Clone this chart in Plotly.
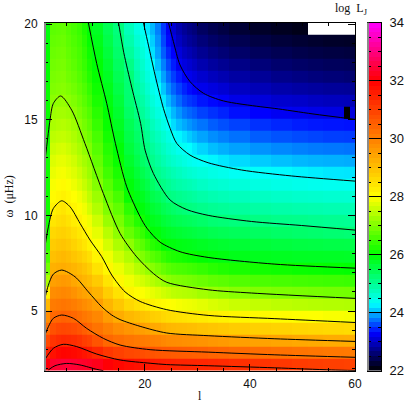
import numpy as np
import plotly.graph_objects as go

# heatmap cells: l columns are wide where the picture changes slowly
l_edges = [1, 2, 3, 4, 5, 6, 7, 8, 9, 10, 12, 14, 16, 18, 19, 20, 21, 22, 23, 24, 25, 26, 27, 28, 29, 30,
           32, 34, 36, 40, 44, 48, 51, 54, 58, 59, 60]
omega_range = [1.88, 20.07]
omega_edges = np.linspace(omega_range[0], omega_range[1], 30)

# log L_j, one row per omega band, bottom to top
log_lj = [
    [31.6,31.95,32.0,32.05,32.05,32.0,31.95,31.9,31.85,31.75,31.55,31.4,31.3,31.25,31.2,31.17,31.12,31.08,31.05,31.02,31.0,30.97,30.96,30.95,30.95,30.94,30.9,30.87,30.8,30.74,30.68,30.63,30.6,30.56,30.54,30.52],
    [31.0,31.25,31.4,31.45,31.42,31.38,31.3,31.2,31.1,30.92,30.68,30.55,30.45,30.4,30.35,30.3,30.27,30.23,30.2,30.18,30.15,30.13,30.12,30.1,30.08,30.06,30.0,29.97,29.92,29.87,29.82,29.78,29.75,29.72,29.7,29.68],
    [30.4,30.75,30.85,30.9,30.88,30.83,30.75,30.6,30.5,30.26,29.97,29.85,29.77,29.7,29.67,29.64,29.6,29.57,29.5,29.45,29.43,29.41,29.39,29.37,29.36,29.33,29.27,29.23,29.18,29.12,29.07,29.03,29.0,28.98,28.96,28.94],
    [29.9,30.3,30.42,30.45,30.42,30.35,30.25,30.1,29.97,29.8,29.6,29.42,29.3,29.2,29.18,29.1,29.04,29.0,28.9,28.83,28.8,28.78,28.76,28.74,28.72,28.67,28.62,28.58,28.52,28.47,28.42,28.38,28.35,28.32,28.3,28.28],
    [29.4,29.96,30.0,30.06,30.01,29.95,29.85,29.74,29.65,29.5,29.2,28.97,28.8,28.72,28.65,28.6,28.5,28.45,28.35,28.3,28.25,28.22,28.2,28.16,28.13,28.08,28.02,27.98,27.93,27.88,27.84,27.81,27.79,27.76,27.74,27.73],
    [28.8,29.68,29.72,29.76,29.72,29.65,29.55,29.43,29.33,29.18,28.85,28.6,28.35,28.22,28.14,28.06,27.98,27.92,27.86,27.82,27.78,27.74,27.7,27.68,27.65,27.6,27.53,27.48,27.42,27.37,27.33,27.3,27.28,27.26,27.25,27.24],
    [28.0,29.41,29.46,29.5,29.46,29.35,29.2,29.1,29.02,28.86,28.5,28.2,27.94,27.84,27.78,27.7,27.63,27.55,27.46,27.4,27.33,27.3,27.27,27.25,27.22,27.14,27.08,27.03,26.97,26.92,26.88,26.86,26.84,26.82,26.81,26.8],
    [27.2,29.15,29.2,29.25,29.2,29.05,28.95,28.85,28.75,28.53,28.17,27.9,27.7,27.56,27.48,27.38,27.28,27.18,27.07,26.98,26.92,26.89,26.86,26.83,26.8,26.75,26.68,26.64,26.58,26.53,26.5,26.47,26.45,26.43,26.41,26.4],
    [26.8,28.9,28.95,28.98,28.92,28.85,28.75,28.63,28.5,28.2,27.9,27.67,27.47,27.28,27.2,27.05,26.95,26.84,26.72,26.62,26.56,26.52,26.5,26.46,26.42,26.37,26.28,26.22,26.17,26.12,26.09,26.06,26.04,26.02,26.0,25.99],
    [26.5,28.7,28.77,28.8,28.74,28.62,28.52,28.4,28.25,27.94,27.7,27.45,27.25,27.0,26.9,26.75,26.62,26.52,26.37,26.26,26.2,26.16,26.12,26.08,26.05,25.98,25.93,25.88,25.8,25.77,25.74,25.72,25.71,25.7,25.69,25.68],
    [26.3,28.52,28.6,28.62,28.55,28.42,28.3,28.15,27.97,27.78,27.5,27.22,27.0,26.75,26.63,26.44,26.28,26.19,26.0,25.93,25.9,25.85,25.82,25.8,25.77,25.72,25.66,25.62,25.58,25.54,25.5,25.47,25.45,25.43,25.42,25.41],
    [26.2,28.35,28.43,28.45,28.38,28.25,28.13,27.98,27.85,27.62,27.3,27.0,26.72,26.5,26.37,26.15,25.97,25.92,25.78,25.7,25.65,25.6,25.55,25.52,25.48,25.43,25.36,25.32,25.28,25.23,25.18,25.15,25.12,25.09,25.07,25.05],
    [26.1,28.15,28.26,28.3,28.2,28.06,27.98,27.84,27.7,27.45,27.08,26.85,26.5,26.25,26.12,25.91,25.78,25.7,25.56,25.48,25.4,25.35,25.3,25.27,25.22,25.16,25.08,25.05,25.0,24.95,24.9,24.88,24.85,24.83,24.81,24.8],
    [26.1,28.0,28.1,28.15,28.03,27.93,27.83,27.7,27.5,27.25,26.9,26.68,26.3,26.0,25.92,25.75,25.6,25.5,25.35,25.25,25.16,25.09,25.04,24.98,24.95,24.88,24.82,24.78,24.73,24.68,24.64,24.61,24.59,24.57,24.56,24.55],
    [26.1,27.85,27.93,27.98,27.9,27.8,27.7,27.55,27.35,27.1,26.75,26.5,26.06,25.85,25.75,25.57,25.4,25.3,25.15,24.98,24.93,24.87,24.82,24.77,24.72,24.65,24.58,24.53,24.48,24.43,24.39,24.36,24.34,24.32,24.31,24.3],
    [26.1,27.75,27.83,27.86,27.78,27.68,27.55,27.4,27.22,26.93,26.6,26.3,25.93,25.7,25.55,25.4,25.2,25.03,24.93,24.82,24.72,24.65,24.6,24.55,24.5,24.42,24.34,24.3,24.25,24.18,24.14,24.11,24.09,24.07,24.06,24.05],
    [26.1,27.65,27.72,27.74,27.66,27.57,27.43,27.27,27.1,26.8,26.45,26.18,25.78,25.55,25.38,25.22,25.02,24.87,24.75,24.65,24.55,24.47,24.39,24.33,24.28,24.22,24.15,24.1,24.03,23.98,23.94,23.91,23.89,23.87,23.86,23.85],
    [26.1,27.55,27.62,27.63,27.56,27.46,27.3,27.16,27.03,26.7,26.33,26.06,25.65,25.4,25.2,25.05,24.88,24.72,24.58,24.45,24.35,24.27,24.18,24.1,24.05,24.0,23.92,23.87,23.82,23.77,23.73,23.7,23.68,23.67,23.66,23.65],
    [26.1,27.43,27.5,27.52,27.44,27.33,27.2,27.03,26.9,26.6,26.25,25.95,25.52,25.28,25.1,24.95,24.75,24.6,24.45,24.3,24.2,24.08,24.02,23.95,23.88,23.8,23.72,23.67,23.62,23.57,23.53,23.5,23.48,23.47,23.46,23.45],
    [26.1,27.32,27.36,27.38,27.32,27.22,27.09,26.92,26.78,26.5,26.14,25.82,25.42,25.18,25.0,24.83,24.62,24.47,24.32,24.17,24.0,23.92,23.85,23.77,23.7,23.63,23.55,23.5,23.45,23.38,23.34,23.31,23.29,23.27,23.26,23.25],
    [26.05,27.2,27.25,27.27,27.22,27.12,26.97,26.82,26.67,26.38,26.05,25.73,25.33,25.08,24.9,24.72,24.5,24.33,24.15,23.98,23.83,23.72,23.65,23.58,23.52,23.46,23.38,23.33,23.28,23.22,23.18,23.15,23.13,23.12,23.11,23.1],
    [26.05,27.1,27.14,27.15,27.1,27.0,26.86,26.72,26.57,26.28,25.97,25.63,25.2,24.95,24.78,24.58,24.37,24.2,24.03,23.85,23.7,23.58,23.47,23.41,23.36,23.28,23.22,23.17,23.1,23.05,23.0,22.98,22.95,22.93,22.0,22.9],
    [26.05,26.98,27.03,27.05,26.98,26.9,26.77,26.63,26.46,26.18,25.88,25.53,25.1,24.83,24.67,24.45,24.25,24.07,23.88,23.7,23.55,23.42,23.3,23.24,23.2,23.12,23.07,23.02,22.95,22.9,22.85,22.83,22.8,22.78,22.77,22.75],
    [26.05,26.9,26.93,26.95,26.88,26.8,26.68,26.55,26.35,26.1,25.8,25.43,25.08,24.73,24.55,24.33,24.13,23.97,23.75,23.55,23.4,23.28,23.17,23.09,23.03,22.97,22.92,22.87,22.8,22.75,22.7,22.67,22.65,22.63,22.62,22.6],
    [26.0,26.85,26.88,26.9,26.8,26.72,26.6,26.45,26.25,26.03,25.72,25.33,25.05,24.63,24.45,24.22,24.03,23.85,23.62,23.42,23.27,23.14,23.03,22.97,22.92,22.85,22.78,22.73,22.67,22.62,22.57,22.54,22.51,22.49,22.47,22.45],
    [26.0,26.8,26.83,26.85,26.75,26.65,26.53,26.38,26.17,25.96,25.62,25.24,24.92,24.53,24.36,24.12,23.95,23.73,23.5,23.3,23.15,23.0,22.92,22.86,22.8,22.72,22.65,22.6,22.55,22.5,22.45,22.42,22.4,22.38,22.37,22.35],
    [26.0,26.75,26.78,26.8,26.7,26.6,26.5,26.33,26.1,25.88,25.52,25.15,24.75,24.43,24.26,24.03,23.85,23.63,23.38,23.18,23.04,22.9,22.8,22.74,22.68,22.6,22.53,22.48,22.43,22.38,22.34,22.31,22.29,22.27,22.26,22.25],
    [25.95,26.7,26.73,26.75,26.65,26.55,26.45,26.27,26.03,25.8,25.42,25.07,24.62,24.3,24.15,23.95,23.78,23.57,23.3,23.08,22.95,22.8,22.7,22.63,22.58,22.5,22.43,22.38,22.33,22.28,22.24,22.21,22.19,22.17,22.16,22.15],
    [25.9,26.65,26.68,26.7,26.6,26.5,26.4,26.2,25.97,25.72,25.33,25.0,24.5,24.18,24.03,23.87,23.7,23.5,23.25,23.02,22.87,22.72,22.62,22.55,22.5,22.4,22.33,22.28,22.22,22.17,22.13,22.1,None,None,None,None],
]

# contour lines, (l, omega) per level
c23_l = [24.5, 25.44, 26.7, 28.6, 31.16, 34.97, 41.95, 44.75, 52, 60]
c23_w = [20.07, 19.08, 17.86, 16.99, 16.38, 15.98, 15.68, 15.59, 15.3, 15.02]
c24_l = [19.73, 20.68, 21.95, 23.54, 24.81, 26.08, 28.6, 32.05, 38.4, 47.9, 60]
c24_w = [20.07, 18.9, 17.33, 15.59, 14.55, 13.76, 13.15, 12.75, 12.37, 12.06, 11.79]
c25_l = [15, 16, 17.5, 19.2, 20.05, 21.63, 24.81, 28, 32.05, 40.3, 49.8, 60]
c25_w = [20.07, 18.5, 16.7, 14.8, 13.41, 12.19, 10.8, 10.3, 10.0, 9.68, 9.47, 9.23]
c26_l = [9.25, 10.84, 12.75, 14.4, 16.56, 19.1, 20.4, 22.9, 26.7, 32.05, 44.75, 60]
c26_w = [20.07, 17.94, 15.85, 13.76, 11.49, 9.93, 9.33, 8.6, 8.1, 7.8, 7.45, 7.24]
c27_l = [1, 1.32, 1.95, 2.59, 3.98, 6.08, 8.6, 12.11, 15.3, 18.46, 21.63, 24.17, 32.05, 40.3, 60]
c27_w = [12.89, 13.59, 14.98, 15.85, 16.24, 15.5, 13.76, 11.14, 9.05, 7.83, 6.96, 6.5, 6.11, 5.94, 5.66]
c28_l = [1, 1.64, 2.59, 4.18, 5.76, 7.67, 9.57, 11.8, 13.7, 16.24, 19.1, 24.17, 32.05, 44.75, 60]
c28_w = [8.36, 9.4, 10.36, 10.76, 10.45, 9.58, 8.71, 7.84, 6.88, 6.0, 5.5, 5.07, 4.77, 4.6, 4.4]
c29_l = [1, 1.64, 2.59, 4.18, 6.71, 9.25, 11.8, 13.7, 15.3, 19.1, 24.17, 32.05, 44.75, 60]
c29_w = [5.68, 6.35, 6.93, 7.14, 6.79, 6.0, 5.22, 4.79, 4.55, 4.2, 3.85, 3.71, 3.55, 3.41]
c30_l = [1, 1.64, 2.59, 4.18, 6.4, 8.94, 12.11, 15.3, 21, 32.05, 44.75, 60]
c30_w = [3.75, 4.18, 4.62, 4.79, 4.62, 4.09, 3.57, 3.22, 2.98, 2.85, 2.71, 2.58]
c31_l = [1, 2.59, 4.49, 7.03, 10.84, 15.3, 21, 24.17, 32.05, 44.75, 55.5, 60]
c31_w = [2.47, 3.05, 3.26, 3.14, 2.75, 2.44, 2.27, 2.2, 2.14, 2.03, 1.92, 1.89]
c32_l = [1.64, 2.9, 5.13, 7.67, 10.84, 12.11]
c32_w = [1.92, 2.14, 2.26, 2.18, 1.95, 1.88]

contour_l = [c23_l, c24_l, c25_l, c26_l, c27_l, c28_l, c29_l, c30_l, c31_l, c32_l]
contour_w = [c23_w, c24_w, c25_w, c26_w, c27_w, c28_w, c29_w, c30_w, c31_w, c32_w]

z_min, z_max = 22, 34
stop_colors = ["#000000", "#0000ff", "#00ffff", "#00ff00", "#ffff00", "#ff8000", "#ff0000", "#ff00ff"]
# the map reads a little offset from the key in the picture, so they get their own stops
map_levels = [22, 23.05, 23.95, 26, 27.8, 29.6, 31.5, 34]
key_levels = [22, 23.3, 24.3, 26, 28, 30, 32, 34]
map_scale = [[(v - z_min) / (z_max - z_min), c] for v, c in zip(map_levels, stop_colors)]
key_scale = [[(v - z_min) / (z_max - z_min), c] for v, c in zip(key_levels, stop_colors)]

PAGE = 415


def px_x(p):
    return p / PAGE


def px_y(p):
    return 1 - p / PAGE


fig = go.Figure()

fig.add_trace(go.Heatmap(
    x=l_edges, y=omega_edges, z=log_lj,
    zmin=z_min, zmax=z_max, colorscale=map_scale, showscale=False,
    hoverongaps=False, xaxis="x", yaxis="y",
))

for cx, cy in zip(contour_l, contour_w):
    fig.add_trace(go.Scatter(
        x=cx, y=cy, mode="lines", showlegend=False,
        line=dict(color="black", width=1, shape="spline", smoothing=0.8),
        xaxis="x", yaxis="y",
    ))

# colour key, drawn as its own little heatmap
key_edges = np.linspace(z_min, z_max, 73)
key_values = (key_edges[:-1] + key_edges[1:]) / 2
fig.add_trace(go.Heatmap(
    x=[0, 1], y=key_edges, z=[[v] for v in key_values],
    zmin=z_min, zmax=z_max, colorscale=key_scale, showscale=False,
    xaxis="x2", yaxis="y2",
))

tick_font = dict(family="Liberation Sans", size=12, color="#111111")
title_font = dict(family="Liberation Serif", size=12, color="#111111")

fig.update_layout(
    width=PAGE, height=PAGE, autosize=False,
    margin=dict(l=0, r=0, t=0, b=0),
    paper_bgcolor="white", plot_bgcolor="white",
    showlegend=False,
    xaxis=dict(
        domain=[px_x(45), px_x(355)], range=[1, 60], anchor="y", automargin=False,
        tickvals=[20, 40, 60], ticks="inside", ticklen=7, tickwidth=1, tickcolor="black",
        minor=dict(dtick=5, tick0=0, ticks="inside", ticklen=3, tickcolor="black", showgrid=False),
        showgrid=False, zeroline=False, showline=True, linecolor="black", linewidth=1, mirror="ticks",
        tickfont=tick_font, ticklabelstandoff=2,
    ),
    yaxis=dict(
        domain=[px_y(370.7), px_y(22.7)], range=omega_range, anchor="x", automargin=False,
        tickvals=[5, 10, 15, 20], ticks="inside", ticklen=7, tickwidth=1, tickcolor="black",
        minor=dict(dtick=1, tick0=0, ticks="inside", ticklen=3, tickcolor="black", showgrid=False),
        showgrid=False, zeroline=False, showline=True, linecolor="black", linewidth=1, mirror="ticks",
        tickfont=tick_font, ticklabelstandoff=4,
    ),
    xaxis2=dict(
        domain=[px_x(368), px_x(381)], range=[0, 1], anchor="y2", automargin=False,
        showticklabels=False, ticks="", showgrid=False, zeroline=False,
        showline=True, linecolor="black", linewidth=1, mirror=True,
    ),
    yaxis2=dict(
        domain=[px_y(370.7), px_y(22.7)], range=[z_min, z_max], anchor="x2", side="right", automargin=False,
        tickvals=[22, 24, 26, 28, 30, 32, 34], ticks="inside", ticklen=13, tickwidth=1, tickcolor="black",
        minor=dict(dtick=0.5, tick0=22, ticks="inside", ticklen=3, tickcolor="black", showgrid=False),
        showgrid=False, zeroline=False, showline=True, linecolor="black", linewidth=1, mirror="ticks",
        tickfont=dict(family="Liberation Sans", size=13, color="#111111"), ticklabelstandoff=5,
    ),
    shapes=[
        dict(type="line", xref="paper", yref="paper", x0=px_x(45), x1=px_x(45),
             y0=px_y(370.7), y1=px_y(22.7), line=dict(color="#8a8a8a", width=2)),
        dict(type="line", xref="paper", yref="paper", x0=px_x(368), x1=px_x(368),
             y0=px_y(370.7), y1=px_y(22.7), line=dict(color="#8a8a8a", width=2)),
    ],
    annotations=[
        dict(text="l", xref="paper", yref="paper", x=px_x(200), y=px_y(396),
             showarrow=False, font=title_font, xanchor="center", yanchor="middle"),
        dict(text="ω  (μHz)", xref="paper", yref="paper", x=px_x(8), y=px_y(196.5), textangle=-90,
             showarrow=False, font=title_font, xanchor="center", yanchor="middle"),
        dict(text="log  L<sub>J</sub>", xref="paper", yref="paper", x=px_x(351), y=px_y(9),
             showarrow=False, font=title_font, xanchor="center", yanchor="middle"),
    ],
)

# the page has a default body margin that would push the plot off by 8px
fig.write_html("out.html", config=dict(displayModeBar=False),
               post_script="document.body.style.margin='0';")
